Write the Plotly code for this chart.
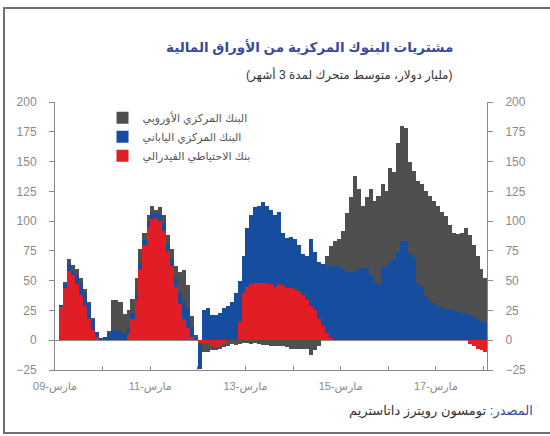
import plotly.graph_objects as go
import pandas as pd

# Monthly data, Apr 2009 - Mar 2018 (billion USD, 3-month moving average)
months = pd.date_range("2009-04-01", periods=108, freq="MS")

fed = [28, 44, 58, 55, 47, 38, 29, 18, 9, 3, 0, 0,
       0, 0, 0, 0, 0, 5, 18, 35, 60, 80, 95, 102,
       103, 100, 92, 75, 62, 45, 30, 18, 10, 3, 0, -2,
       -3, -2, -5, -6, -5, -3, -1, 0, 0, 15, 40, 45,
       47, 48, 48, 48, 48, 47, 45, 47, 46, 44, 44, 43,
       41, 38, 34, 29, 25, 18, 12, 6, 2, 0, 0, 0,
       0, 0, 0, 0, 0, 0, 0, 0, 0, 0, 0, 0,
       0, 0, 0, 0, 0, 0, 0, 0, 0, 0, 0, 0,
       0, 0, 0, 0, 0, 0, 0, -3, -5, -7, -8, -10]

boj = [1, 3, 6, 3, 8, 10, 11, 12, 8, 4, 2, 3,
       6, 9, 9, 8, 6, 5, 5, 4, 5, 4, 4, 5,
       4, 6, 6, 6, 6, 6, 10, 15, 16, 8, 2, -22,
       25, 27, 21, 21, 23, 27, 29, 32, 40, 35, 31, 49,
       58, 64, 65, 68, 65, 62, 60, 61, 44, 42, 43, 42,
       39, 34, 37, 56, 49, 48, 52, 56, 60, 62, 62, 60,
       57, 57, 58, 61, 61, 61, 55, 50, 47, 62, 62, 66,
       68, 74, 83, 83, 73, 70, 48, 45, 37, 33, 31, 29,
       28, 26, 26, 25, 24, 23, 23, 21, 20, 18, 16, 15]

ecb = [0, 2, 4, 5, 5, 4, 3, 2, 1, 0, 0, 0,
       2, 25, 25, 24, 16, 15, 12, 13, 12, 6, 6, 6,
       2, 6, 7, 7, 9, 11, 17, 26, 20, 9, 2, 0,
       -7, -8, -3, -2, -2, -3, -4, -3, -4, -3, -2, -2,
       -3, -2, -3, -4, -4, -5, -5, -5, -5, -6, -7, -7,
       -7, -7, -7, -12, -8, -5, 0, 9, 17, 21, 23, 32,
       50, 63, 80, 66, 52, 59, 72, 67, 74, 69, 63, 79,
       73, 92, 97, 95, 77, 72, 86, 86, 88, 88, 86, 84,
       80, 78, 71, 65, 65, 67, 71, 67, 60, 53, 44, 37]

series_names = ["بنك الاحتياطي الفيدرالي", "البنك المركزي الياباني", "البنك المركزي الأوروبي"]
series_colors = ["#e11d25", "#164d9e", "#4f4f4f"]

x_tickvals = ["2009-03-01", "2010-03-01", "2011-03-01", "2012-03-01", "2013-03-01",
              "2014-03-01", "2015-03-01", "2016-03-01", "2017-03-01", "2018-03-01"]
x_ticktext = ["مارس-09", "", "مارس-11", "", "مارس-13", "", "مارس-15", "", "مارس-17", ""]
y_tickvals = [-25, 0, 25, 50, 75, 100, 125, 150, 175, 200]

title_text = "مشتريات البنوك المركزية من الأوراق المالية"
subtitle_text = "(مليار دولار، متوسط متحرك لمدة 3 أشهر)"
source_text = "<span style='color:#3a4a9c'>المصدر:</span> تومسون رويترز داتاستريم"

FONT = "Liberation Sans, DejaVu Sans, sans-serif"
GREY = "#8a8a8a"

# each bar spans exactly its calendar month
month_ends = months + pd.offsets.MonthBegin(1)
month_len = month_ends - months
bar_centers = months + month_len / 2
bar_widths = [d.total_seconds() * 1000 for d in month_len]

fig = go.Figure()
for name, vals, col in zip(series_names, [fed, boj, ecb], series_colors):
    fig.add_trace(go.Bar(
        x=bar_centers, y=vals, name=name, width=bar_widths,
        marker=dict(color=col, line=dict(width=0)),
    ))

# invisible companion trace so the mirrored right-hand axis is drawn
fig.add_trace(go.Scatter(x=bar_centers, y=ecb, yaxis="y2", mode="lines",
                         line=dict(width=0), opacity=0, showlegend=False, hoverinfo="skip"))

axis_common = dict(range=[-25, 200], tickvals=y_tickvals, showline=True, linecolor=GREY,
                   ticks="outside", ticklen=5, tickcolor=GREY, showgrid=False,
                   tickfont=dict(family=FONT, size=12, color=GREY), ticklabelstandoff=10)

fig.update_layout(
    width=550, height=436,
    margin=dict(l=55, r=63, t=102, b=66),
    paper_bgcolor="white", plot_bgcolor="white",
    barmode="relative", bargap=0,
    font=dict(family=FONT),
    legend=dict(x=0.11, y=0.995, xanchor="left", yanchor="top", traceorder="reversed",
                bgcolor="rgba(0,0,0,0)", font=dict(family=FONT, size=11, color="#555"),
                itemwidth=30, tracegroupgap=0),
    xaxis=dict(type="date", range=["2009-03-01", "2018-03-28"], tickvals=x_tickvals,
               ticktext=x_ticktext, ticks="inside", ticklen=4, tickcolor=GREY,
               showline=True, linecolor=GREY, showgrid=False, zeroline=False,
               tickfont=dict(family=FONT, size=11, color=GREY), ticklabelstandoff=6),
    yaxis=dict(**axis_common, zeroline=True, zerolinecolor=GREY, zerolinewidth=1),
    yaxis2=dict(**axis_common, overlaying="y", side="right", zeroline=False),
    annotations=[
        dict(text="<b>" + title_text + "</b>", xref="paper", yref="paper", x=0.926, y=1.205,
             xanchor="right", yanchor="middle", showarrow=False,
             font=dict(family=FONT, size=13.5, color="#3a4a9c")),
        dict(text=subtitle_text, xref="paper", yref="paper", x=0.926, y=1.101,
             xanchor="right", yanchor="middle", showarrow=False,
             font=dict(family=FONT, size=12, color="#333")),
        dict(text=source_text, xref="paper", yref="paper", x=1.111, y=-0.153,
             xanchor="right", yanchor="middle", showarrow=False,
             font=dict(family=FONT, size=13, color="#333")),
    ],
    shapes=[dict(type="rect", xref="paper", yref="paper", x0=-0.118, x1=1.2, y0=-0.235, y1=1.351,
                 line=dict(color="#707070", width=2), fillcolor="rgba(0,0,0,0)", layer="above")],
)

fig.write_html("out.html", config={"displayModeBar": False},
               post_script="document.body.style.margin='0';")
